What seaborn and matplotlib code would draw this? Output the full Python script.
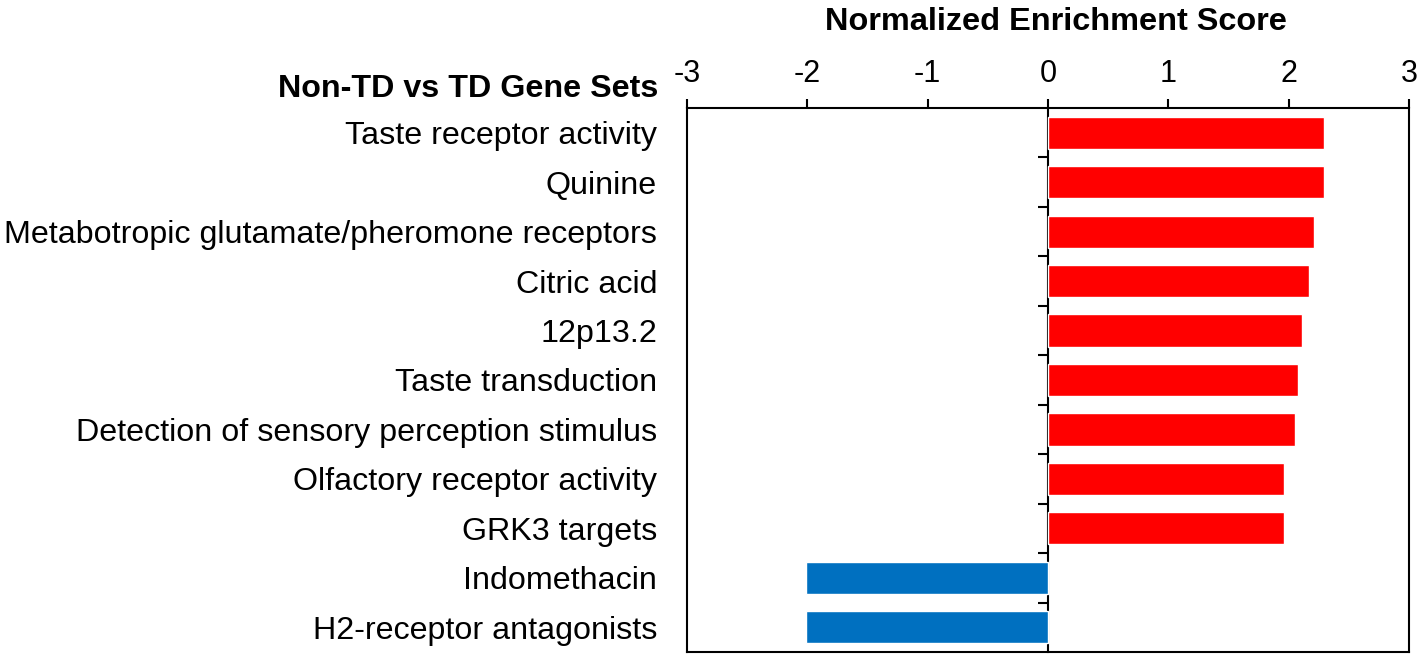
import numpy as np
import pandas as pd
import matplotlib
matplotlib.use("Agg")
import matplotlib.pyplot as plt
import seaborn as sns

# gene sets, top to bottom as listed in the figure
gene_sets = [
    "Taste receptor activity",
    "Quinine",
    "Metabotropic glutamate/pheromone receptors",
    "Citric acid",
    "12p13.2",
    "Taste transduction",
    "Detection of sensory perception stimulus",
    "Olfactory receptor activity",
    "GRK3 targets",
    "Indomethacin",
    "H2-receptor antagonists",
]
nes = [2.29, 2.29, 2.21, 2.17, 2.11, 2.08, 2.05, 1.96, 1.96, -2.01, -2.01]
x_ticks = [-3, -2, -1, 0, 1, 2, 3]

sns.set_theme(style="white")
plt.rcParams["font.family"] = ["Liberation Sans", "DejaVu Sans"]
plt.rcParams["text.color"] = "black"
plt.rcParams["axes.labelcolor"] = "black"

df = pd.DataFrame({"gene_set": gene_sets, "nes": nes})
df["direction"] = np.where(df["nes"] > 0, "up", "down")

fig = plt.figure(figsize=(14.18, 6.56), dpi=100)
ax = fig.add_axes([0.4845, 0.0061, 0.5092, 0.8293])

sns.barplot(
    data=df, x="nes", y="gene_set", hue="direction",
    palette={"up": "#FF0000", "down": "#0070C0"}, saturation=1,
    orient="h", dodge=False, width=0.65, legend=False, ax=ax,
)

ax.set_xlim(x_ticks[0], x_ticks[-1])
ax.set_ylim(len(gene_sets) - 0.5, -0.5)

# x axis on top
ax.xaxis.tick_top()
ax.xaxis.set_label_position("top")
ax.set_xticks(x_ticks)
ax.set_xticklabels([str(t) for t in x_ticks])
ax.set_xlabel("Normalized Enrichment Score", fontsize=23.4, fontweight="bold", labelpad=21)
ax.xaxis.label.set_x(0.511)
ax.tick_params(axis="x", direction="out", length=6.5, width=1.5, labelsize=22, pad=7,
               top=True, bottom=False, colors="black")
ax.set_ylabel("")
ax.tick_params(axis="y", length=0, labelsize=23.2, pad=21.6, colors="black")

for sp in ax.spines.values():
    sp.set_visible(True)
    sp.set_color("black")
    sp.set_linewidth(1.5)

# zero line with ticks between categories (pointing left)
zero = ax.secondary_yaxis(0.5)
zero.set_yticks(np.arange(0.5, len(gene_sets) - 1, 1.0))
zero.set_yticklabels([])
zero.tick_params(direction="in", length=7.5, width=1.5, colors="black")
for sp in zero.spines.values():
    sp.set_linewidth(1.5)
    sp.set_color("black")

ax.text(-0.04, -0.73, "Non-TD vs TD Gene Sets", transform=ax.get_yaxis_transform(),
        ha="right", va="baseline", fontsize=23.2, fontweight="bold", clip_on=False)

fig.savefig("out.png", dpi=100)
